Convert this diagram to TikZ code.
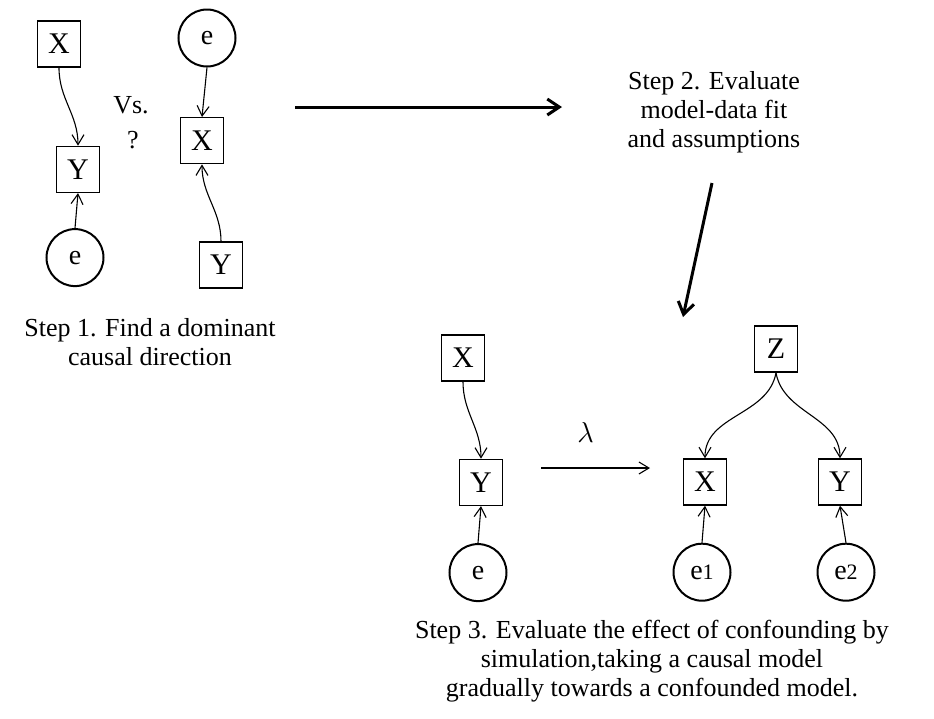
\documentclass[tikz,border=0pt]{standalone}
\usepackage{fontspec}
\setmainfont{Liberation Serif}
\usetikzlibrary{positioning, arrows.meta}

\begin{document}
\begin{tikzpicture}[
    x=0.5pt, y=-0.5pt,
    var/.style={draw=black, line width=0.7pt, rectangle, minimum width=21.5pt, minimum height=23pt, inner sep=0pt, font=\fontsize{15}{17}\selectfont},
    err/.style={draw=black, line width=1pt, circle, minimum size=28.5pt, inner sep=0pt, font=\fontsize{14}{16}\selectfont},
    edge/.style={line width=0.55pt, -{Straight Barb[length=5pt, width=6pt]}},
    bigedge/.style={line width=1.5pt, -{Straight Barb[length=6pt, width=8pt, line width=1.5pt]}},
    steplabel/.style={align=center, font=\fontsize{13}{14.5}\selectfont}
]
\useasboundingbox (0,0) rectangle (934,719);

% Schritt 1: X -> Y
\node[var] (X1) at (59,44) {X};
\node[var, below=39pt of X1, xshift=9.5pt] (Y1) {Y};
\node[err, below=17.5pt of Y1, xshift=-1.5pt] (e1) {e};

% Schritt 1: Y -> X
\node[err] (eB) at (207,38) {e};
\node[var, below=24.75pt of eB, xshift=-2.5pt] (XB) {X};
\node[var, below=38.5pt of XB, xshift=9.5pt] (YB) {Y};

\node[steplabel] (vs) at (131,105) {Vs.};
\node[steplabel] (qm) at (133,140) {?};
\node[steplabel] (step1) at (150,342) {Step 1. Find a dominant\\causal direction};

% Kanten Schritt 1
\draw[edge] (X1.south) to[out=-90, in=90] (Y1.north);
\draw[edge] (e1.north) -- (Y1.south);
\draw[edge] (eB.south) -- (XB.north);
\draw[edge] (YB.north) to[out=90, in=-90] (XB.south);

% Schritt 2
\node[steplabel] (step2) at (714,112) {Step 2. Evaluate\\model-data fit\\and assumptions};
\coordinate (a1s) at (295,107);
\coordinate (a1e) at (562,107);
\coordinate (a2s) at (712,183);
\coordinate (a2e) at (683,317);
\draw[bigedge] (a1s) -- (a1e);
\draw[bigedge] (a2s) -- (a2e);

% Schritt 3: kausales Modell
\node[var] (XC) at (463,358) {X};
\node[var, below=38.5pt of XC, xshift=9pt] (YC) {Y};
\node[err, below=18.5pt of YC, xshift=-1.5pt] (eC) {e};
\draw[edge] (XC.south) to[out=-90, in=90] (YC.north);
\draw[edge] (eC.north) -- (YC.south);

% Uebergang
\coordinate (lams) at (541,468);
\coordinate (lame) at (650,468);
\draw[edge] (lams) -- (lame) node[midway, above=9pt, xshift=-5pt, font=\fontsize{15}{17}\selectfont] {$\lambda$};

% Schritt 3: konfundiertes Modell
\node[var] (Z) at (776,349) {Z};
\node[var] (XD) at (705,482) {X};
\node[var] (YD) at (840,482) {Y};
\node[err, below=18.5pt of XD, xshift=-1.5pt] (eD1) {e{\fontsize{11}{12}\selectfont 1}};
\node[err, below=18.5pt of YD, xshift=3pt] (eD2) {e{\fontsize{11}{12}\selectfont 2}};
\draw[edge] (Z.south) to[out=-100, in=90] (XD.north);
\draw[edge] (Z.south) to[out=-80, in=90] (YD.north);
\draw[edge] (eD1.north) -- (XD.south);
\draw[edge] (eD2.north) -- (YD.south);

\node[steplabel] (step3) at (652,661) {Step 3. Evaluate the effect of confounding by\\simulation,taking a causal model\\gradually towards a confounded model.};

\end{tikzpicture}
\end{document}
